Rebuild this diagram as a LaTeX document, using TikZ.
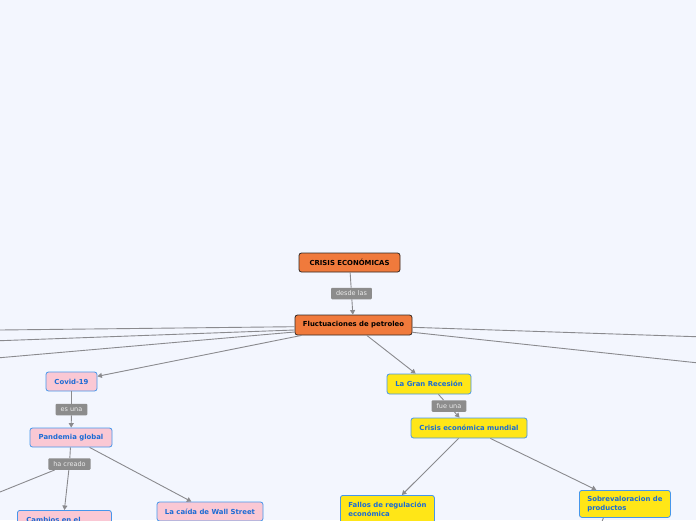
\documentclass[tikz,border=0pt]{standalone}
\usepackage{fontspec}
\setmainfont{DejaVu Sans}
\usetikzlibrary{arrows.meta}

\definecolor{bgblue}{RGB}{243,246,254}
\definecolor{linkgray}{RGB}{138,138,142}
\definecolor{taggray}{RGB}{140,140,140}
\definecolor{rootorange}{RGB}{240,122,60}
\definecolor{rootline}{RGB}{50,40,35}
\definecolor{pinkfill}{RGB}{250,200,212}
\definecolor{yellowfill}{RGB}{255,230,23}
\definecolor{blueline}{RGB}{70,150,235}
\definecolor{bluetext}{RGB}{28,108,212}

\begin{document}
\begin{tikzpicture}[x=1pt, y=-1pt,
    box/.style={rounded corners=2.5pt, line width=0.8pt, inner sep=0pt,
      font=\bfseries\fontsize{6.9}{8.4}\selectfont},
    rootbox/.style={box, fill=rootorange, draw=rootline, text=black},
    pinkbox/.style={box, fill=pinkfill, draw=blueline, text=bluetext},
    yellowbox/.style={box, fill=yellowfill, draw=blueline, text=bluetext},
    tag/.style={fill=taggray, text=white!92!black, inner xsep=5pt, inner ysep=0pt,
      minimum height=11.5pt, rounded corners=1pt, font=\fontsize{6.5}{7}\selectfont},
    link/.style={draw=linkgray, line width=0.9pt},
    arrow/.style={link, -{Triangle[length=4.5pt,width=5pt]}}]

    \fill[bgblue] (0,0) rectangle (696,520);
    \useasboundingbox (0,0) rectangle (696,520);

    % centre
    \node[rootbox, minimum width=101pt, minimum height=19pt] (crisis) at (349.5,262.5) {CRISIS ECONÓMICAS};
    \node[tag] (desde) at (351.5,293.5) {desde las};
    \node[rootbox, minimum width=117pt, minimum height=20pt] (fluct) at (353.5,325) {Fluctuaciones de petroleo};

    % left branch
    \node[pinkbox, minimum width=51pt, minimum height=19pt] (covid) at (71.5,381.5) {Covid-19};
    \node[tag] (esuna) at (71.5,409.5) {es una};
    \node[pinkbox, minimum width=82pt, minimum height=19pt] (pandemia) at (71,437.5) {Pandemia global};
    \node[tag] (hacreado) at (69.5,464) {ha creado};
    \node[pinkbox, anchor=north west, text width=76pt, align=left, inner xsep=9pt, inner ysep=7pt] (cambios) at (17,510) {Cambios en el};
    \node[pinkbox, minimum width=106pt, minimum height=19pt] (wallst) at (210,511.5) {La caída de Wall Street};

    % right branch
    \node[yellowbox, minimum width=84pt, minimum height=20pt] (recesion) at (429,384) {La Gran Recesión};
    \node[tag] (fueuna) at (449,406) {fue una};
    \node[yellowbox, minimum width=116pt, minimum height=20pt] (mundial) at (469,428) {Crisis económica mundial};
    \node[yellowbox, anchor=north west, minimum width=94pt, align=left, inner ysep=7pt] (fallos) at (340,495) {Fallos de regulación\\económica};
    \node[yellowbox, anchor=north west, minimum width=91pt, minimum height=27pt, align=left] (sobre) at (579,490) {Sobrevaloracion de\\productos};

    % free ends off the page
    \coordinate (offL1) at (0,330);
    \coordinate (offL2) at (0,340.7);
    \coordinate (offL3) at (0,357.7);
    \coordinate (offR1) at (696,336.7);
    \coordinate (offR2) at (696,362.7);
    \coordinate (offP) at (0,492);
    \coordinate (offS) at (597,535);

    \draw[link] (crisis) -- (desde);
    \draw[arrow] (desde) -- (fluct);

    \foreach \dy/\far in {-1.7/offL1, -5/offL2, -7/offL3}
    {
      \draw[link] ([yshift=\dy pt]fluct.west) -- (\far);
    }
    \foreach \dy/\far in {-2.3/offR1, -7.3/offR2}
    {
      \draw[link] ([yshift=\dy pt]fluct.east) -- (\far);
    }

    \draw[arrow] (fluct) -- (covid);
    \draw[link] (covid) -- (esuna);
    \draw[arrow] (esuna) -- (pandemia);
    \draw[link] (pandemia) -- (hacreado);
    \draw[arrow] (hacreado) -- (cambios.north);
    \draw[link] (hacreado) -- (offP);
    \draw[arrow] (pandemia) -- (wallst);

    \draw[arrow] (fluct) -- (recesion);
    \draw[link] (recesion) -- (fueuna);
    \draw[arrow] (fueuna) -- (mundial);
    \draw[arrow] (mundial) -- (fallos);
    \draw[arrow] (mundial) -- (sobre);
    \draw[link] ([xshift=-21.5pt]sobre.south) -- (offS);
  \end{tikzpicture}
\end{document}
